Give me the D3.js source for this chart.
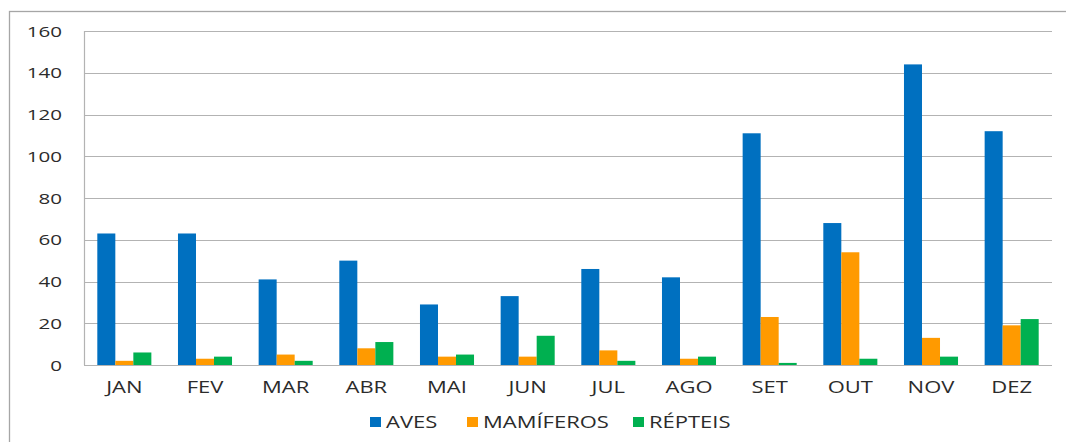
<!DOCTYPE html>
<html>
<head>
<meta charset="utf-8">
<script src="https://cdn.jsdelivr.net/npm/d3@7"></script>
<style>
  html, body { margin: 0; padding: 0; background: #fff; }
  svg { display: block; }
  text { font-family: "Open Sans", sans-serif; fill: #2b2b2b; }
</style>
</head>
<body>
<svg id="chart" width="1066" height="442"></svg>
<script>
// Monthly counts by animal group
const months = ["JAN", "FEV", "MAR", "ABR", "MAI", "JUN", "JUL", "AGO", "SET", "OUT", "NOV", "DEZ"];
const seriesNames = ["AVES", "MAMÍFEROS", "RÉPTEIS"];
const aves      = [63, 63, 41, 50, 29, 33, 46, 42, 111, 68, 144, 112];
const mamiferos = [2, 3, 5, 8, 4, 4, 7, 3, 23, 54, 13, 19];
const repteis   = [6, 4, 2, 11, 5, 14, 2, 4, 1, 3, 4, 22];
const yTicks    = [0, 20, 40, 60, 80, 100, 120, 140, 160];

const seriesValues = [aves, mamiferos, repteis];
const colors = ["#0070C0", "#FF9A00", "#00B050"];

const svg = d3.select("#chart");
const stretch = 1.42; // wide lettering of the labels

// outer frame (left and top edges visible)
svg.append("rect")
  .attr("x", 9.5).attr("y", 11.5)
  .attr("width", 1070).attr("height", 450)
  .attr("fill", "none").attr("stroke", "#a6a6a6").attr("stroke-width", 1.3);

const plot = { left: 84, right: 1052, top: 31, bottom: 365 };

const x = d3.scaleBand()
  .domain(months)
  .range([plot.left, plot.right])
  .paddingInner(0.33).paddingOuter(0.165);

const xs = d3.scaleBand()
  .domain(seriesNames)
  .range([0, x.bandwidth()]);

const y = d3.scaleLinear().domain([0, 160]).range([plot.bottom, plot.top]);

// gridlines
svg.append("g").selectAll("line")
  .data(yTicks)
  .join("line")
  .attr("x1", plot.left).attr("x2", plot.right)
  .attr("y1", d => Math.round(y(d)) + 0.5).attr("y2", d => Math.round(y(d)) + 0.5)
  .attr("stroke", "#b3b3b3").attr("stroke-width", 1.2);

// vertical axis line
svg.append("line")
  .attr("x1", plot.left + 0.5).attr("x2", plot.left + 0.5)
  .attr("y1", plot.top).attr("y2", plot.bottom)
  .attr("stroke", "#b3b3b3").attr("stroke-width", 1.2);

// y tick labels
svg.append("g").selectAll("text")
  .data(yTicks)
  .join("text")
  .attr("text-anchor", "end")
  .attr("dominant-baseline", "central")
  .attr("font-size", 14.5)
  .attr("transform", d => `translate(62,${y(d)}) scale(${stretch},1)`)
  .text(d => d);

// bars
const groups = svg.append("g").selectAll("g")
  .data(months)
  .join("g")
  .attr("transform", d => `translate(${x(d)},0)`);

groups.selectAll("rect")
  .data((m, i) => seriesNames.map((s, k) => ({ s, k, v: seriesValues[k][i] })))
  .join("rect")
  .attr("x", d => xs(d.s))
  .attr("y", d => y(d.v))
  .attr("width", xs.bandwidth())
  .attr("height", d => y(0) - y(d.v))
  .attr("fill", d => colors[d.k]);

// month labels
svg.append("g").selectAll("text")
  .data(months)
  .join("text")
  .attr("text-anchor", "middle")
  .attr("font-size", 15.5)
  .attr("transform", d => `translate(${x(d) + x.bandwidth() / 2},393) scale(${stretch},1)`)
  .text(d => d);

// legend
const legendX = [370, 467, 633];
const legend = svg.append("g").selectAll("g")
  .data(seriesNames)
  .join("g")
  .attr("transform", (d, i) => `translate(${legendX[i]},0)`);

legend.append("rect")
  .attr("x", 0).attr("y", 417)
  .attr("width", 11).attr("height", 10)
  .attr("fill", (d, i) => colors[i]);

legend.append("text")
  .attr("font-size", 15.5)
  .attr("transform", `translate(16,428) scale(${stretch},1)`)
  .text(d => d);
</script>
</body>
</html>
